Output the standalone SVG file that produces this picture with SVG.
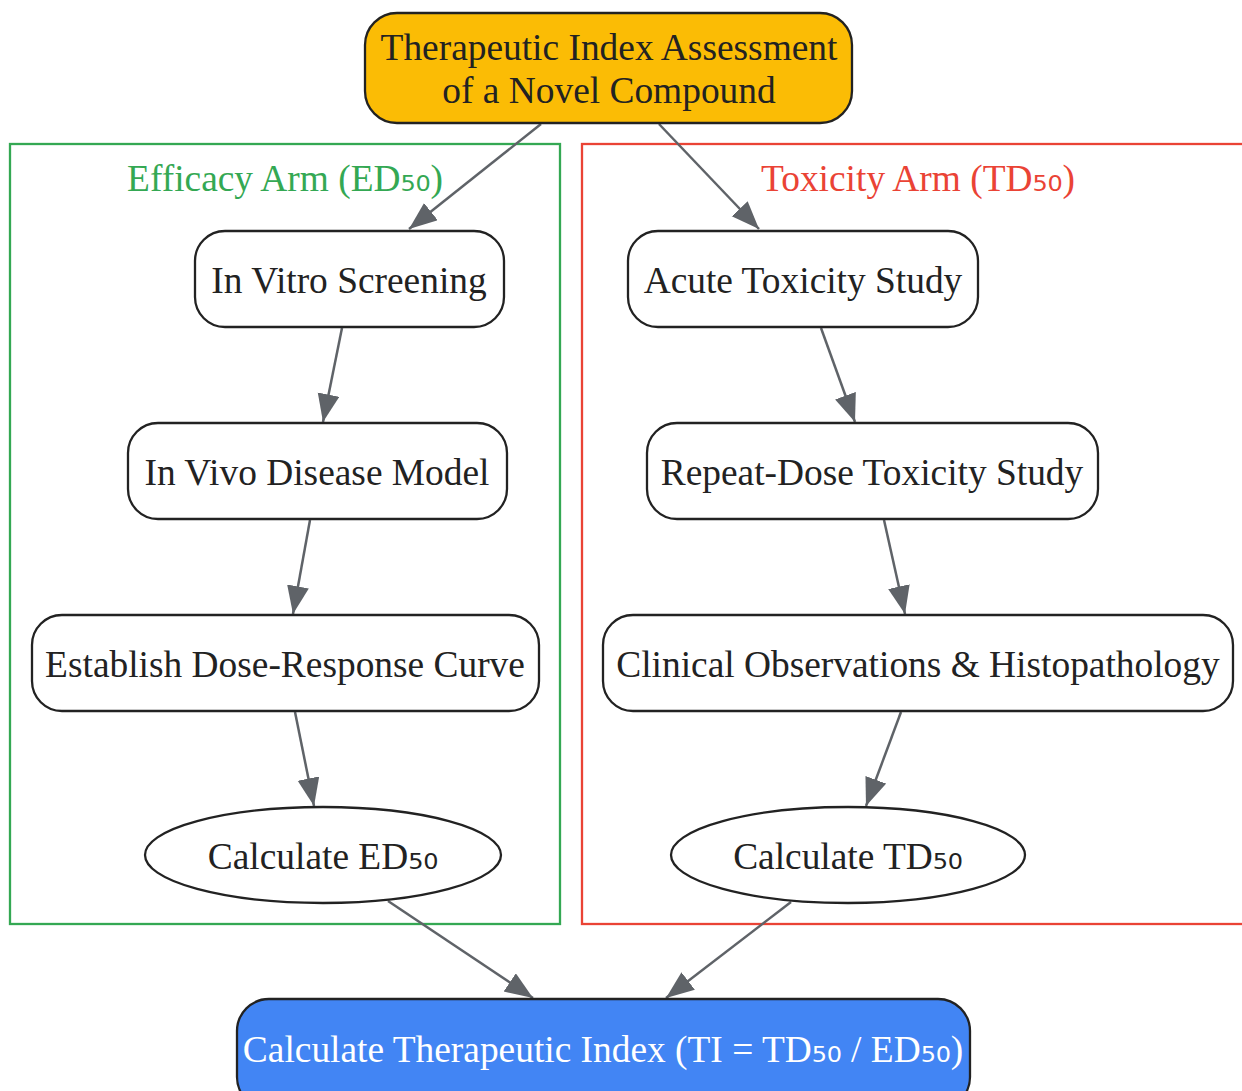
<svg xmlns="http://www.w3.org/2000/svg" width="1242" height="1091" viewBox="0 0 1242 1091">
<style>
text{font-family:"Liberation Serif","Times New Roman",serif;font-size:37.4px;fill:#222;text-anchor:middle}
.s{font-family:"DejaVu Sans",sans-serif}
.node{fill:#fff;stroke:#222;stroke-width:2.3}
.edge{stroke:#5F6368;stroke-width:2.5;fill:none;marker-end:url(#ah)}
.cl{fill:none;stroke-width:2.3}
</style>
<defs>
<marker id="ah" markerUnits="userSpaceOnUse" markerWidth="30" markerHeight="24" refX="28" refY="11" orient="auto">
<path d="M0,0 L28,11 L0,22 Z" fill="#5F6368"/>
</marker>
</defs>
<rect width="1242" height="1091" fill="#fff"/>
<g id="cluster_efficacy">
<rect class="cl" x="10" y="144" width="550" height="780" stroke="#34A853"/>
<text x="285" y="191" style="fill:#34A853">Efficacy Arm (ED<tspan class="s">₅₀</tspan>)</text>
</g>
<g id="cluster_toxicity">
<rect class="cl" x="582" y="144" width="680" height="780" stroke="#EA4335"/>
<text x="918" y="191" style="fill:#EA4335">Toxicity Arm (TD<tspan class="s">₅₀</tspan>)</text>
</g>
<g id="edges">
<line class="edge" x1="541" y1="124" x2="409" y2="229"/>
<line class="edge" x1="659" y1="124" x2="759" y2="229"/>
<line class="edge" x1="342" y1="328" x2="323" y2="422"/>
<line class="edge" x1="310" y1="520" x2="293" y2="614"/>
<line class="edge" x1="295" y1="712" x2="314" y2="806"/>
<line class="edge" x1="821" y1="328" x2="855" y2="422"/>
<line class="edge" x1="884" y1="520" x2="905" y2="614"/>
<line class="edge" x1="901" y1="712" x2="866" y2="806"/>
<line class="edge" x1="388" y1="901" x2="533" y2="998"/>
<line class="edge" x1="791" y1="902" x2="666" y2="998"/>
</g>
<g id="start">
<rect x="365" y="13" width="487" height="110" rx="32" fill="#FBBC05" stroke="#222" stroke-width="2.3"/>
<text x="609" y="60">Therapeutic Index Assessment</text>
<text x="609" y="103">of a Novel Compound</text>
</g>
<g id="in_vitro">
<rect class="node" x="195" y="231" width="309" height="96" rx="30"/>
<text x="349" y="293">In Vitro Screening</text>
</g>
<g id="in_vivo">
<rect class="node" x="128" y="423" width="379" height="96" rx="30"/>
<text x="317" y="485">In Vivo Disease Model</text>
</g>
<g id="dose_response">
<rect class="node" x="32" y="615" width="507" height="96" rx="30"/>
<text x="285" y="677">Establish Dose-Response Curve</text>
</g>
<g id="calc_ed50">
<ellipse class="node" cx="323" cy="855" rx="178" ry="48"/>
<text x="323" y="869">Calculate ED<tspan class="s">₅₀</tspan></text>
</g>
<g id="acute">
<rect class="node" x="628" y="231" width="350" height="96" rx="30"/>
<text x="803" y="293">Acute Toxicity Study</text>
</g>
<g id="repeat">
<rect class="node" x="647" y="423" width="451" height="96" rx="30"/>
<text x="872" y="485">Repeat-Dose Toxicity Study</text>
</g>
<g id="clinical">
<rect class="node" x="603" y="615" width="630" height="96" rx="30"/>
<text x="918" y="677">Clinical Observations &amp; Histopathology</text>
</g>
<g id="calc_td50">
<ellipse class="node" cx="848" cy="855" rx="177" ry="48"/>
<text x="848" y="869">Calculate TD<tspan class="s">₅₀</tspan></text>
</g>
<g id="ti">
<rect x="237" y="999" width="733" height="110" rx="32" fill="#4285F4" stroke="#222" stroke-width="2.3"/>
<text x="603" y="1062" style="fill:#fff">Calculate Therapeutic Index (TI = TD<tspan class="s">₅₀</tspan> / ED<tspan class="s">₅₀</tspan>)</text>
</g>
</svg>
